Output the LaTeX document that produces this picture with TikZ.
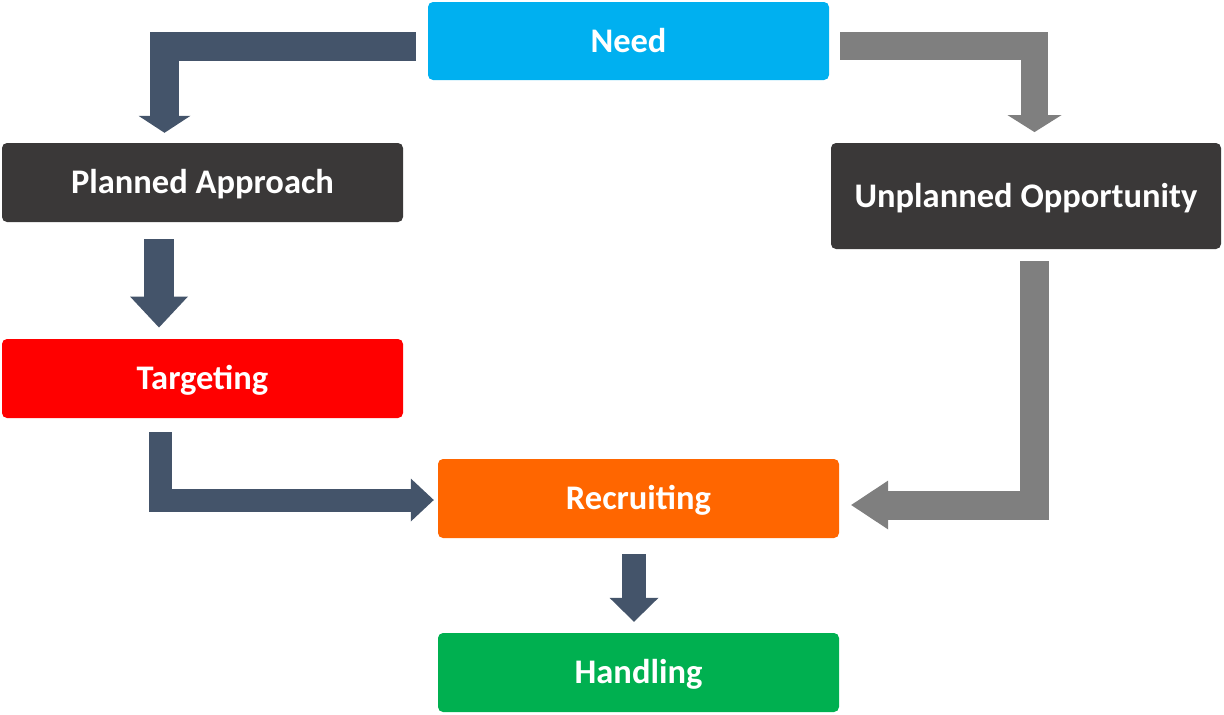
\documentclass[tikz,border=0pt]{standalone}
\usepackage{fontspec}
\setmainfont{Carlito}
\usetikzlibrary{arrows.meta}
\definecolor{needc}{HTML}{00B0F0}
\definecolor{darkc}{HTML}{3A3838}
\definecolor{redc}{HTML}{FF0000}
\definecolor{orangec}{HTML}{FF6600}
\definecolor{greenc}{HTML}{00B050}
\definecolor{navyc}{HTML}{44546A}
\definecolor{grayc}{HTML}{7F7F7F}
\tikzset{
  box/.style={rounded corners=5pt, minimum width=401pt, minimum height=79pt,
    inner sep=0pt, text=white, font=\bfseries\fontsize{34.5}{40}\selectfont,
    text height=26pt, text depth=4pt},
  blk/.style args={#1/#2/#3/#4}{draw=#1, line width=#2, line join=miter, line cap=butt,
    -{Triangle[length=#3, width=#4, line width'=0pt]}},
}
\begin{document}
\begin{tikzpicture}[x=1pt,y=-1pt]
\useasboundingbox (0,0) rectangle (1224,715);
\node[box, fill=needc, minimum height=78pt] (need) at (628.5,41) {Need};
\node[box, fill=darkc] (pa) at (202.5,182.5) {Planned Approach};
\node[box, fill=darkc, minimum width=390pt, minimum height=106pt] (uo) at (1026,196) {Unplanned Opportunity};
\node[box, fill=redc] (tgt) at (202.5,378.5) {Targeting};
\node[box, fill=orangec] (rec) at (638.5,498.5) {Recruiting};
\node[box, fill=greenc] (hand) at (638.5,672.5) {Handling};
% connectors
\draw[blk=navyc/28.5pt/17pt/52pt] ([xshift=-12pt,yshift=-5.5pt]need.west) -| ([xshift=-38pt,yshift=10pt]pa.north);
\draw[blk=grayc/27.5pt/17pt/54pt] ([xshift=11pt,yshift=-5pt]need.east) -| ([xshift=8.5pt,yshift=10.7pt]uo.north);
\draw[blk=navyc/30pt/31pt/58pt] ([xshift=-43.5pt,yshift=-17pt]pa.south) -- ([xshift=-43.5pt,yshift=11.3pt]tgt.north);
\draw[blk=navyc/23pt/23pt/43pt] ([xshift=-42pt,yshift=-14pt]tgt.south) |- ([xshift=-4pt,yshift=-1.5pt]rec.west);
\draw[blk=grayc/29pt/37pt/49pt] ([xshift=8.5pt,yshift=-12pt]uo.south) |- ([xshift=12pt,yshift=-6.5pt]rec.east);
\draw[blk=navyc/24pt/24pt/49pt] ([xshift=-4.5pt,yshift=-16pt]rec.south) -- ([xshift=-4.5pt,yshift=11pt]hand.north);
\end{tikzpicture}
\end{document}
